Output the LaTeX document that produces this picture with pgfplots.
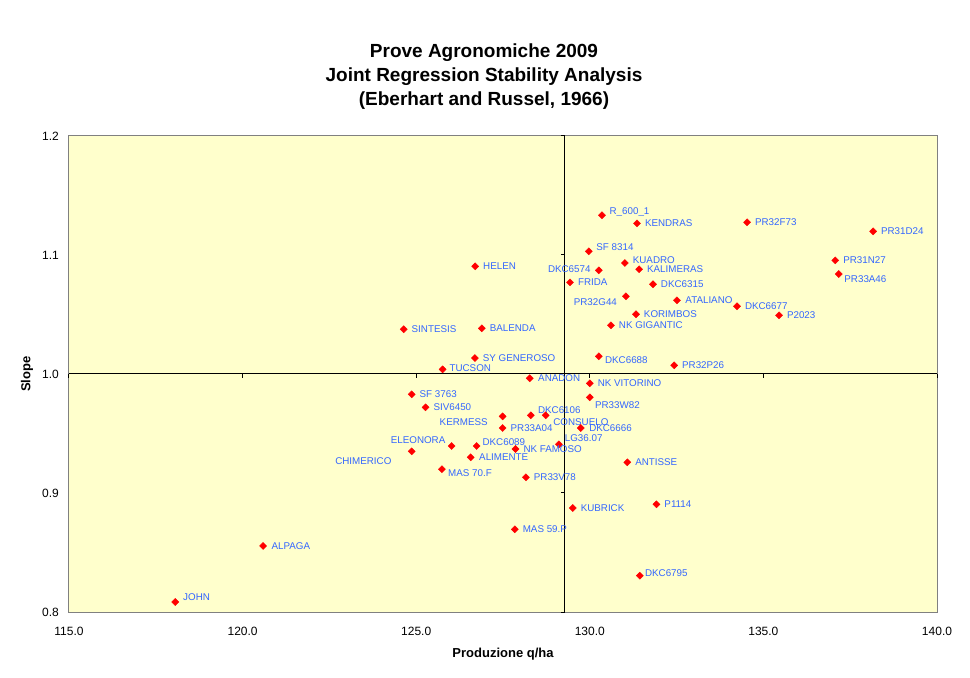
\documentclass[border=0pt]{standalone}
\usepackage{fontspec}
\setmainfont{Liberation Sans}
\usepackage{pgfplots}
\usepackage{pgfplotstable}
\pgfplotsset{compat=1.18}
\definecolor{plotbg}{HTML}{FFFFCC}
\definecolor{labelblue}{HTML}{3366FF}
\definecolor{bordergray}{HTML}{808080}
% label placed right (W) or left (E) of its marker: gap (bp), vertical offset (bp), text
\newcommand\lbW[3]{\makebox[0pt][l]{\hspace*{#1bp}\raisebox{\dimexpr #2bp-3.5bp\relax}{#3}}}
\newcommand\lbE[3]{\makebox[0pt][r]{\raisebox{\dimexpr #2bp-3.5bp\relax}{#3}\hspace*{#1bp}}}

\pgfplotstableread[col sep=comma]{
x,y,label
118.06,0.8084,\lbW{8}{5}{JOHN}
120.59,0.8555,\lbW{8.5}{0}{ALPAGA}
124.64,1.0376,\lbW{8}{0}{SINTESIS}
126.89,1.0384,\lbW{8}{0}{BALENDA}
126.70,1.0905,\lbW{8}{0}{HELEN}
126.69,1.0134,\lbW{8}{0}{SY GENEROSO}
125.76,1.0039,\lbW{7}{1}{TUCSON}
128.27,0.9964,\lbW{8.5}{0}{ANADON}
124.87,0.9829,\lbW{8}{0}{SF 3763}
125.27,0.9720,\lbW{8}{0}{SIV6450}
127.49,0.9644,\lbE{15}{-5.7}{KERMESS}
127.49,0.9546,\lbW{8}{0}{PR33A04}
128.30,0.9653,\lbW{7.3}{5.3}{DKC6106}
128.73,0.9653,\lbW{7.7}{-6.7}{CONSUELO}
129.74,0.9546,\lbW{8.5}{0}{DKC6666}
129.11,0.9409,\lbW{6}{6.7}{LG36.07}
127.86,0.9370,\lbW{8}{0}{NK FAMOSO}
126.74,0.9395,\lbW{6}{4}{DKC6089}
126.02,0.9395,\lbE{6.3}{6}{ELEONORA}
124.87,0.9350,\lbE{20.3}{-10}{CHIMERICO}
126.57,0.9300,\lbW{8.5}{0}{ALIMENTE}
125.74,0.9200,\lbW{6.3}{-3.7}{MAS 70.F}
128.16,0.9132,\lbW{8}{0}{PR33V78}
130.00,0.9922,\lbW{8}{0}{NK VITORINO}
130.00,0.9804,\lbW{5.3}{-7.7}{PR33W82}
130.26,1.0149,\lbW{6.3}{-4}{DKC6688}
131.08,0.9258,\lbW{8}{0}{ANTISSE}
130.35,1.1334,\lbW{7.7}{4.7}{R\_600\_1}
131.36,1.1266,\lbW{8}{0}{KENDRAS}
134.53,1.1275,\lbW{8}{0}{PR32F73}
129.97,1.1031,\lbW{7.7}{4.3}{SF 8314}
131.01,1.0933,\lbW{8}{3}{KUADRO}
130.26,1.0871,\lbE{8.3}{1.7}{DKC6574}
131.42,1.0880,\lbW{8}{0}{KALIMERAS}
129.43,1.0770,\lbW{8}{0}{FRIDA}
131.82,1.0754,\lbW{8}{0}{DKC6315}
131.04,1.0653,\lbE{9}{-5.3}{PR32G44}
132.51,1.0619,\lbW{8.5}{0}{ATALIANO}
134.24,1.0569,\lbW{8}{0.7}{DKC6677}
131.33,1.0502,\lbW{8}{0}{KORIMBOS}
135.45,1.0493,\lbW{8}{0}{P2023}
130.61,1.0409,\lbW{8}{0}{NK GIGANTIC}
132.43,1.0073,\lbW{8}{0}{PR32P26}
138.16,1.1199,\lbW{8}{0}{PR31D24}
137.07,1.0955,\lbW{8}{0}{PR31N27}
137.17,1.0840,\lbW{5.7}{-5}{PR33A46}
129.51,0.8874,\lbW{8}{0}{KUBRICK}
127.84,0.8695,\lbW{8}{0}{MAS 59.P}
131.92,0.8905,\lbW{8}{0}{P1114}
131.44,0.8305,\lbW{5.3}{3}{DKC6795}
}\datatable

\begin{document}
\begin{tikzpicture}
\path[use as bounding box] (-69bp,-66bp) rectangle (901bp,612bp);
\begin{axis}[
  at={(0,0)}, anchor=south west,
  scale only axis,
  width=868bp, height=476bp,
  xmin=115, xmax=140, ymin=0.8, ymax=1.2,
  xtick={115,120,125,130,135,140},
  ytick={0.8,0.9,1.0,1.1,1.2},
  major tick length=0pt,
  axis line style={draw=bordergray, line width=1bp},
  axis background/.style={fill=plotbg},
  clip=false,
  xticklabel style={anchor=center, yshift=-19bp, inner sep=0pt,
    font=\fontsize{12bp}{14bp}\selectfont,
    /pgf/number format/.cd, fixed, fixed zerofill, precision=1, assume math mode=true},
  yticklabel style={anchor=east, xshift=-10bp, inner sep=0pt,
    font=\fontsize{12bp}{14bp}\selectfont,
    /pgf/number format/.cd, fixed, fixed zerofill, precision=1, assume math mode=true},
  xlabel={Produzione q/ha},
  ylabel={Slope},
  every axis x label/.style={at={(axis description cs:0.5,0)}, yshift=-42bp, anchor=center,
    font=\fontsize{13bp}{15bp}\selectfont\bfseries},
  every axis y label/.style={at={(axis description cs:0,0.5)}, xshift=-42bp, rotate=90, anchor=center,
    font=\fontsize{13bp}{15bp}\selectfont\bfseries},
  title={Prove Agronomiche 2009\\Joint Regression Stability Analysis\\(Eberhart and Russel, 1966)},
  title style={at={(axis description cs:0.5,1)}, anchor=center, xshift=-19bp, yshift=53bp,
    align=center, font=\fontsize{19bp}{24bp}\selectfont\bfseries},
]
% crossing lines (mean yield and slope = 1)
\draw[black, line width=1bp] (axis cs:129.28,0.8) -- (axis cs:129.28,1.2);
\draw[black, line width=1bp] (axis cs:115,1) -- (axis cs:140,1);
\draw[black, line width=1bp] (axis cs:115,1) -- ++(0bp,-4bp);
\draw[black, line width=1bp] (axis cs:120,1) -- ++(0bp,-4bp);
\draw[black, line width=1bp] (axis cs:125,1) -- ++(0bp,-4bp);
\draw[black, line width=1bp] (axis cs:130,1) -- ++(0bp,-4bp);
\draw[black, line width=1bp] (axis cs:135,1) -- ++(0bp,-4bp);
\draw[black, line width=1bp] (axis cs:140,1) -- ++(0bp,-4bp);
\draw[black, line width=1bp] (axis cs:129.28,0.8) -- ++(-4bp,0bp);
\draw[black, line width=1bp] (axis cs:129.28,0.9) -- ++(-4bp,0bp);
\draw[black, line width=1bp] (axis cs:129.28,1.0) -- ++(-4bp,0bp);
\draw[black, line width=1bp] (axis cs:129.28,1.1) -- ++(-4bp,0bp);
\draw[black, line width=1bp] (axis cs:129.28,1.2) -- ++(-4bp,0bp);

\addplot[
  only marks,
  mark=square*, mark size=2.5bp,
  mark options={rotate=45, fill=red, draw=red},
  point meta=explicit symbolic,
  nodes near coords,
  every node near coord/.append style={anchor=base, inner sep=0pt, text=labelblue,
    font=\fontsize{9.8bp}{11bp}\selectfont},
] table[x=x, y=y, meta=label] {\datatable};
\end{axis}
\end{tikzpicture}
\end{document}
